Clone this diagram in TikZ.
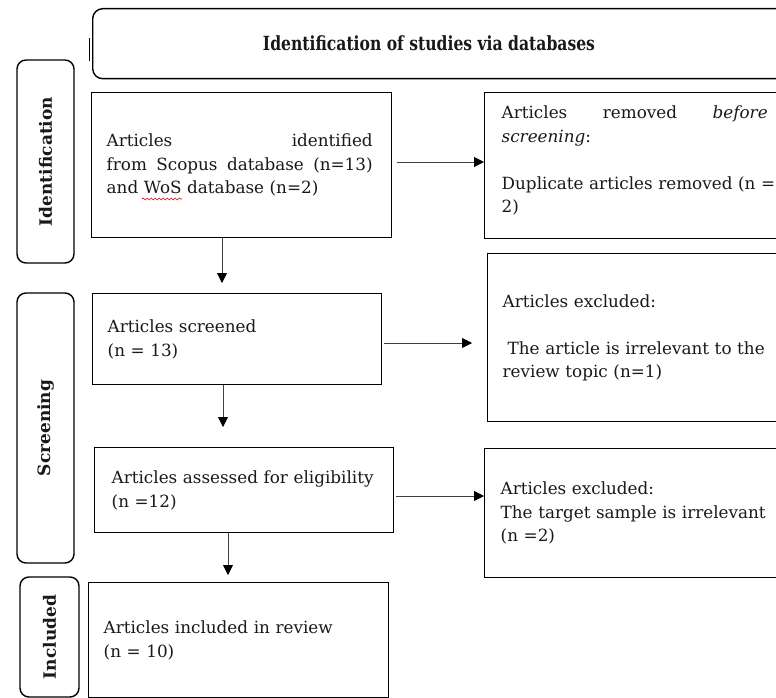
\documentclass[tikz,border=0pt]{standalone}
\usepackage{fontspec}
\setmainfont{DejaVu Serif}
\usetikzlibrary{arrows.meta,decorations.pathmorphing}
\tikzset{
  flowbox/.style={draw=black, line width=1.4pt, rectangle, inner xsep=15pt, inner ysep=0pt,
    align=left, anchor=north west, font=\fontsize{16.8pt}{23.5pt}\selectfont, text=black!90},
  sidebox/.style={draw=black, line width=1.4pt, rounded corners=9pt, rotate=90, inner sep=0pt,
    font=\bfseries\fontsize{17pt}{20pt}\selectfont, text=black!90},
  titlebox/.style={draw=black, line width=1.4pt, rounded corners=10pt, anchor=north west, inner sep=0pt},
  titletext/.style={font=\bfseries\fontsize{19.5pt}{22pt}\selectfont, text=black!90, inner sep=0pt},
  arr/.style={draw=black!75, line width=0.9pt, -{Triangle[length=10pt,width=10pt,color=black]}},
}
\begin{document}
\begin{tikzpicture}[x=1pt,y=-1pt]
\useasboundingbox (0,0) rectangle (776,698);
\clip (0,0) rectangle (776,698);
\fill[white] (0,0) rectangle (776,698);

% title
\node[titlebox, minimum width=698pt, minimum height=70pt] (tbox) at (92,8) {};
\node[titletext] (ttl) at (429,43) {\scalebox{0.8}[1]{Identification of studies via databases}};
\draw[line width=1pt] (89,38) -- (89,61);

% side labels
\node[sidebox, minimum width=203pt, minimum height=57pt] (lid) at (45.5,161.5) {Identification};
\node[sidebox, minimum width=270pt, minimum height=57pt] (lscr) at (45.5,428) {Screening};
\node[sidebox, minimum width=120pt, minimum height=59pt] (linc) at (49.5,637) {Included};

% boxes
\node[flowbox, minimum width=300pt, minimum height=145pt, text width=270pt] (box1) at (91,92)
  {\makebox[266pt][l]{Articles\hfill identified}\\
   \makebox[266pt][l]{from\hfill Scopus\hfill database\hfill (n=13)}\\
   and WoS database (n=2)};
\node[flowbox, inner xsep=17pt, minimum width=320pt, minimum height=146pt, text width=286pt] (box2) at (484,92)
  {\makebox[266pt][l]{Articles\hfill removed\hfill \textit{before}}\\
   \textit{screening}:\\[23.5pt]
   Duplicate articles removed (n =\\
   2)\\[-11pt]\mbox{}};
\node[flowbox, minimum width=289pt, minimum height=91pt, text width=259pt] (box3) at (92,293)
  {Articles screened\\ (n = 13)};
\node[flowbox, minimum width=320pt, minimum height=168pt, text width=290pt] (box4) at (487,253)
  {Articles excluded:\\[23.5pt]
   \hspace*{5pt}The article is irrelevant to the\\
   review topic (n=1)};
\node[flowbox, inner xsep=17pt, minimum width=299pt, minimum height=85pt, text width=265pt] (box5) at (94,447)
  {Articles assessed for eligibility\\ (n =12)};
\node[flowbox, inner xsep=16pt, minimum width=320pt, minimum height=129pt, text width=288pt] (box6) at (484,448)
  {Articles excluded:\\ The target sample is irrelevant\\ (n =2)};
\node[flowbox, minimum width=300pt, minimum height=115pt, text width=270pt] (box7) at (88,582)
  {Articles included in review\\ (n = 10)};

% spell-check wave under WoS
\draw[red!85!black, line width=0.6pt, decorate, decoration={snake, amplitude=1pt, segment length=4pt}]
  (142,199) -- (182,199);

% arrows
\draw[arr, shorten <=5pt] (box1.east |- 0,162) -- (box2.west |- 0,162);
\draw[arr, shorten >=10pt] (box1.south -| 222,0) -- (box3.north -| 222,0);
\draw[arr, shorten <=2pt, shorten >=15pt] (box3.east |- 0,343) -- (box4.west |- 0,343);
\draw[arr, shorten >=20pt] (box3.south -| 223,0) -- (box5.north -| 223,0);
\draw[arr, shorten <=2pt] (box5.east |- 0,496) -- (box6.west |- 0,496);
\draw[arr, shorten >=7pt] (box5.south -| 228,0) -- (box7.north -| 228,0);
\end{tikzpicture}
\end{document}
